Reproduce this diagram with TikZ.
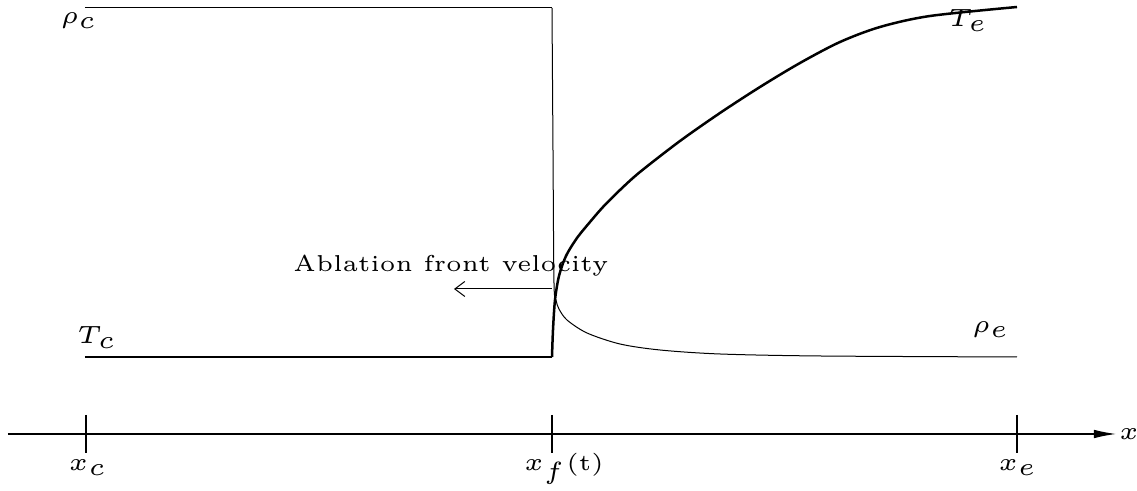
\documentclass[tikz,border=0pt]{standalone}
\usetikzlibrary{arrows.meta}
\begin{document}
\begin{tikzpicture}[x=0.2pt,y=-0.2pt,
  lbl/.style={inner sep=0pt,font=\fontsize{4.6}{5.6}\selectfont},
  rholine/.style={line width=0.2pt,line join=round},
  templine/.style={line width=0.5pt,line join=round},
  axisline/.style={line width=0.22pt},
  tick/.style={line width=0.22pt}]
\useasboundingbox (0,0) rectangle (1137,491);
% key coordinates
\coordinate (rcL) at (85,8);
\coordinate (rcR) at (552,8);
\coordinate (tcL) at (85,357);
\coordinate (tcR) at (552,357);
% density profile
\draw[rholine] (rcL) -- (rcR);
\draw[rholine] plot[smooth] coordinates {(552,8) (553,150) (554,283) (556,300) (559,309) (567,320) (587,333) (620,344) (660,350) (720,354) (820,356) (1017,357)};
% temperature profile
\draw[templine] (tcL) -- (tcR);
\draw[templine] plot[smooth] coordinates {(552,357) (553,330) (555,300) (559,276) (566,256) (577,238) (590,222) (603,207) (620,190) (640,172) (680,141) (720,113) (760,87) (800,63) (840,42) (880,27) (930,16) (1017,7)};
% labels of curves
\node[lbl] (rhoc) at (79,21) {$\rho_c$};
\node[lbl] (Tc) at (97,337) {$T_c$};
\node[lbl] (Te) at (968,20) {$T_e$};
\node[lbl] (rhoe) at (991,330) {$\rho_e$};
% velocity
\node[lbl] (vel) at (451,266) {Ablation front velocity};
\coordinate (vs) at (552,289);
\coordinate (ve) at (454,289);
\draw[line width=0.2pt,-{Straight Barb[length=2pt,width=3pt]}] (vs) -- (ve);
% axis
\coordinate (ax0) at (8,434);
\coordinate (ax1) at (1116,434);
\draw[axisline,-{Latex[length=4.4pt,width=1.7pt]}] (ax0) -- (ax1);
\node[lbl] (xl) at (1129,434) {$x$};
\foreach \p/\n in {86/c,552/f,1017/e}{
  \coordinate (t\n a) at (\p,415);
  \coordinate (t\n b) at (\p,453);
  \draw[tick] (t\n a) -- (t\n b);
}
\node[lbl] (xc) at (88,468) {$x_c$};
\node[lbl] (xf) at (564,469) {$x_f$(t)};
\node[lbl] (xe) at (1018,468) {$x_e$};
\end{tikzpicture}
\end{document}
